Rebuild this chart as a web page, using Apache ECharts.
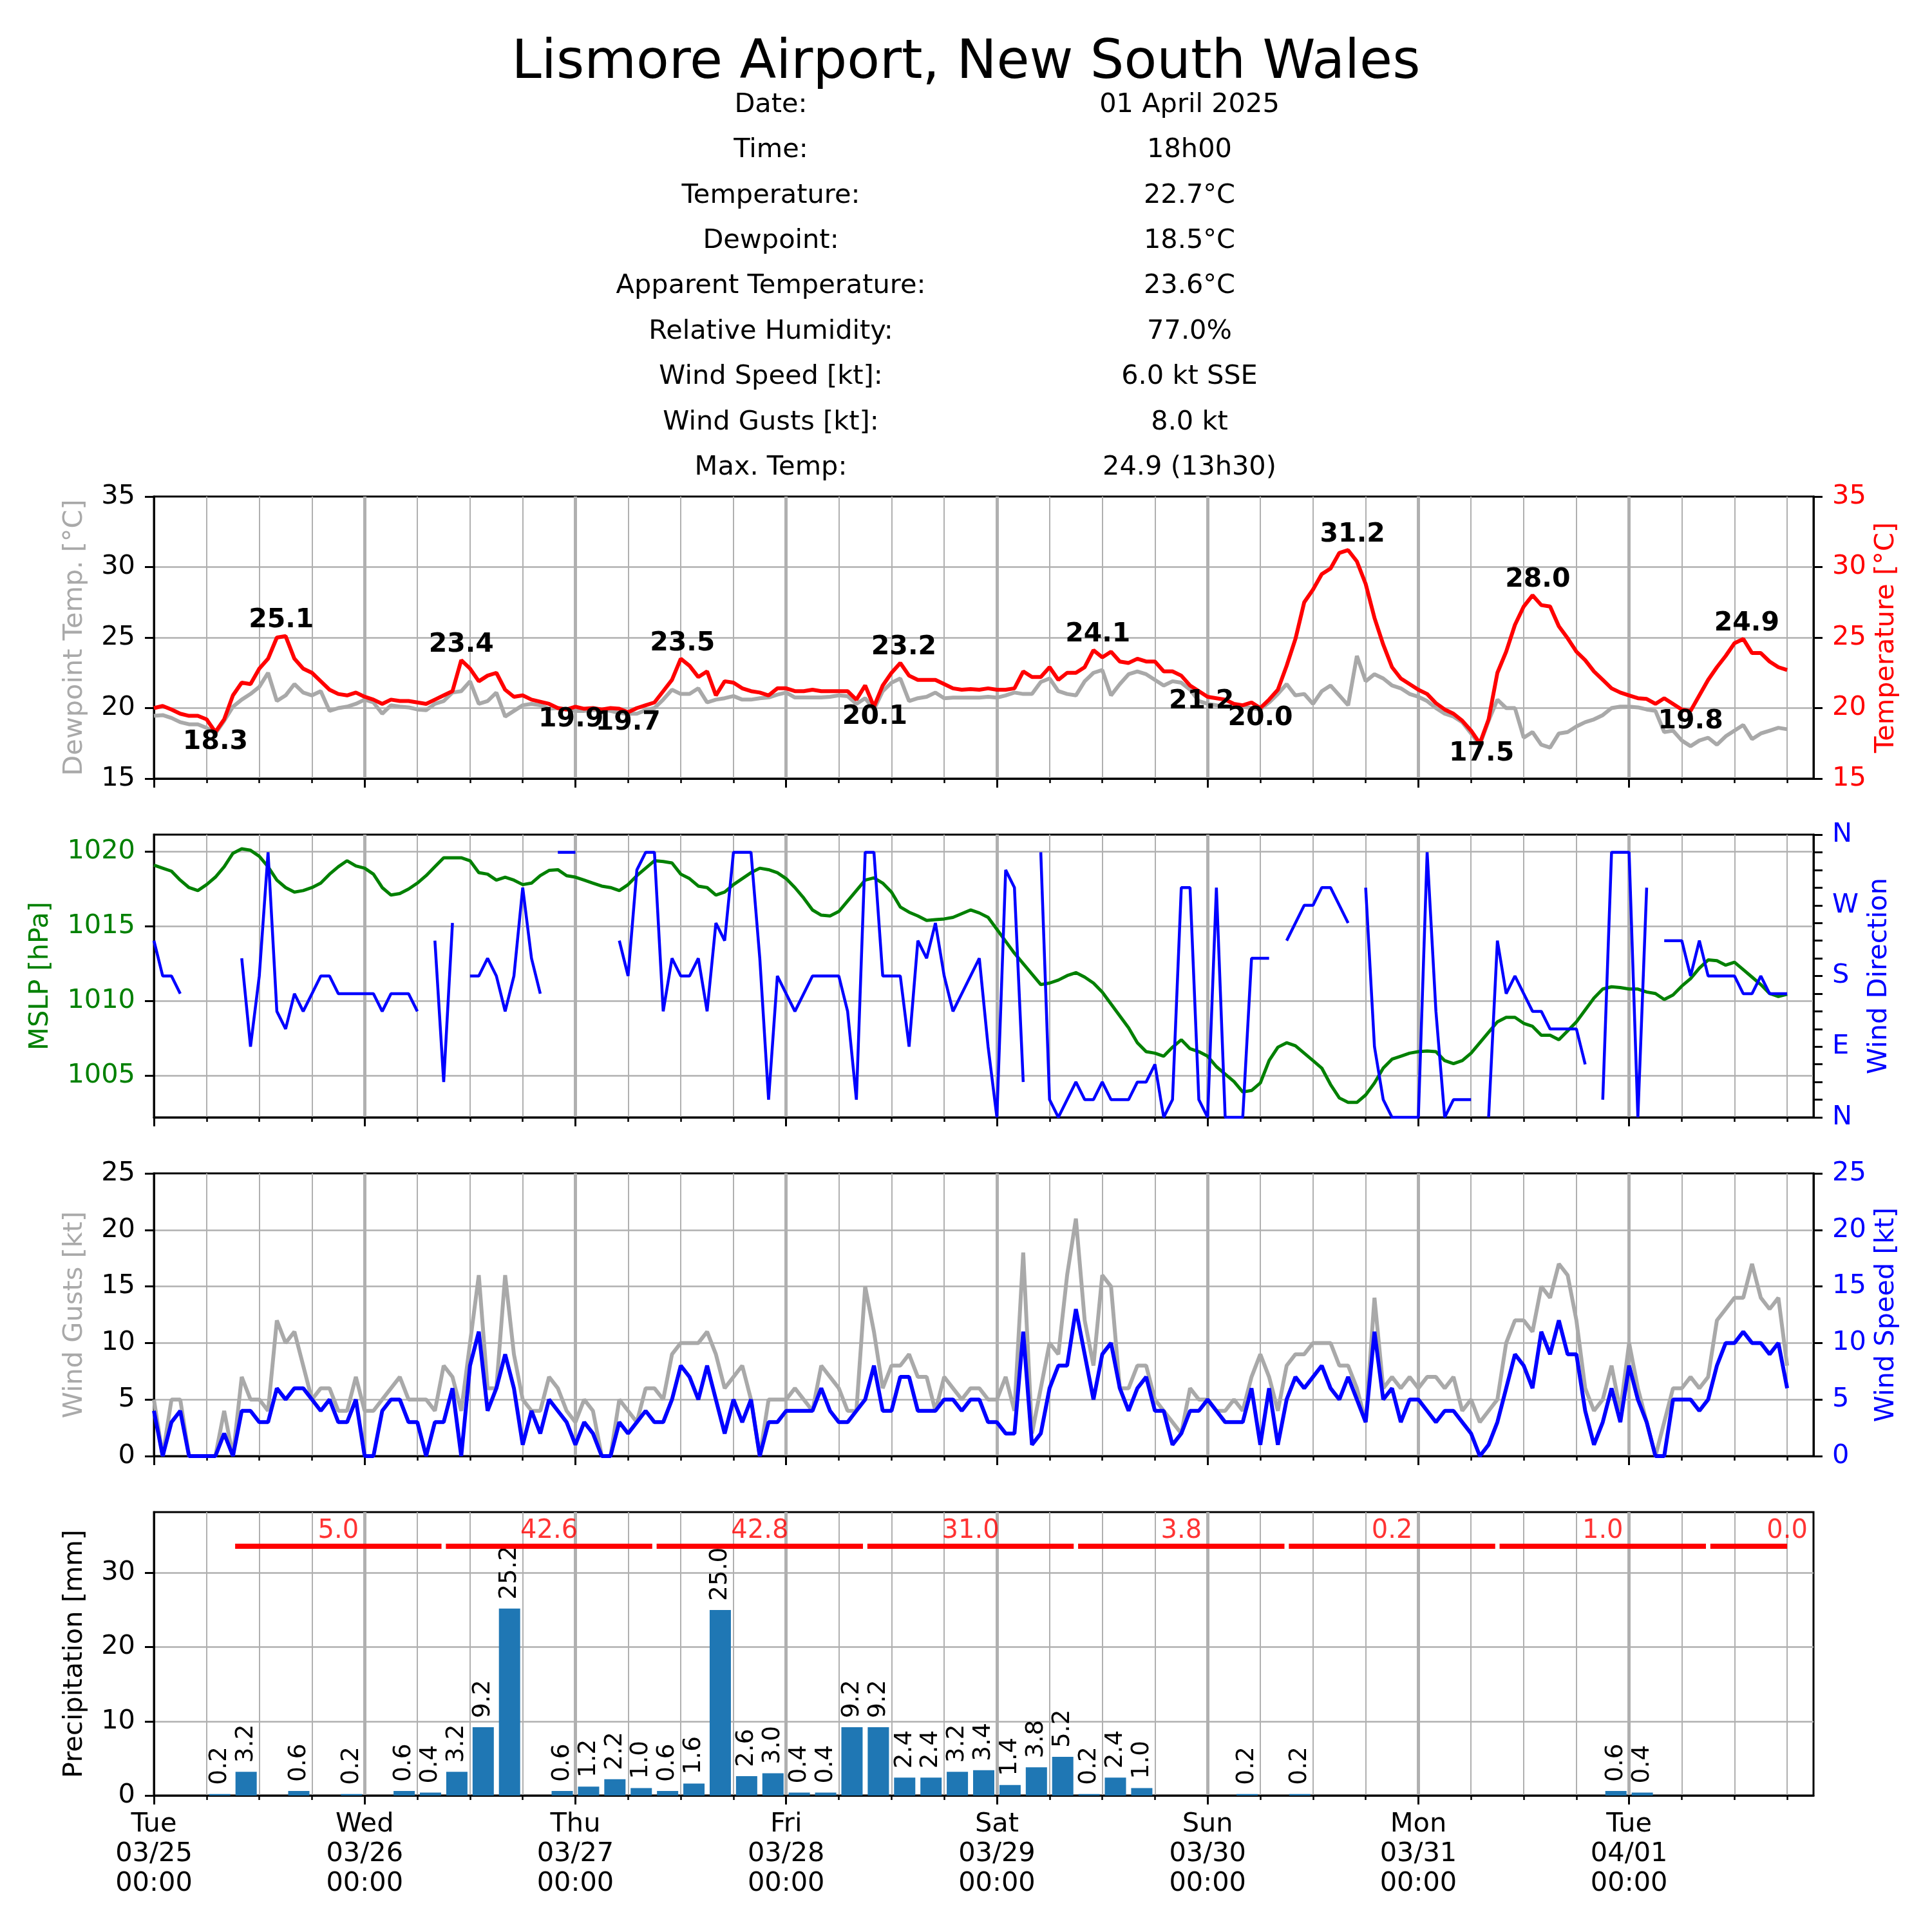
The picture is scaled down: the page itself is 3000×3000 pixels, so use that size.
<!DOCTYPE html>
<html>
<head>
<meta charset="utf-8">
<script src="https://cdn.jsdelivr.net/npm/echarts@6/dist/echarts.min.js"></script>
<style>
html,body{margin:0;padding:0;background:#ffffff;}
#chart{width:3000px;height:3000px;}
</style>
</head>
<body>
<div id="chart"></div>
<script>
// ---------------- DATA (hourly from 2025-03-25 00:00) ----------------
const STEP_HOURS = 1;
const X_MAX_HOURS = 189;

const dayTickHours = [0, 24, 48, 72, 96, 120, 144, 168];
const sixHourTicks = [0,6,12,18,24,30,36,42,48,54,60,66,72,78,84,90,96,102,108,114,120,126,132,138,144,150,156,162,168,174,180,186];
const dayLabels = ['Tue\n03/25\n00:00','Wed\n03/26\n00:00','Thu\n03/27\n00:00','Fri\n03/28\n00:00','Sat\n03/29\n00:00','Sun\n03/30\n00:00','Mon\n03/31\n00:00','Tue\n04/01\n00:00'];

const temperature = [
 20.0,20.15,19.9,19.6,19.45,19.45,19.2,18.3,19.2,20.9,
 21.8,21.7,22.8,23.5,25.0,25.1,23.5,22.8,22.5,21.9,
 21.3,21.0,20.9,21.1,20.8,20.6,20.3,20.6,20.5,20.5,
 20.4,20.3,20.6,20.9,21.2,23.4,22.8,21.9,22.3,22.5,
 21.3,20.8,20.9,20.6,20.45,20.3,20.0,19.9,20.1,19.95,
 20.0,19.9,20.0,19.95,19.7,20.0,20.2,20.4,21.2,22.0,
 23.5,23.0,22.2,22.6,20.9,21.9,21.8,21.4,21.2,21.1,
 20.9,21.4,21.4,21.2,21.2,21.3,21.2,21.2,21.2,21.2,
 20.6,21.6,20.1,21.6,22.5,23.2,22.3,22.0,22.0,22.0,
 21.7,21.4,21.3,21.35,21.3,21.4,21.3,21.3,21.4,22.6,
 22.2,22.2,22.9,22.0,22.5,22.5,22.9,24.1,23.6,24.0,
 23.3,23.2,23.5,23.3,23.3,22.6,22.6,22.3,21.6,21.2,
 20.8,20.7,20.6,20.3,20.2,20.4,20.0,20.6,21.3,23.0,
 24.9,27.5,28.4,29.5,29.9,31.0,31.2,30.4,28.8,26.4,
 24.5,22.9,22.1,21.7,21.3,21.0,20.35,19.9,19.6,19.1,
 18.4,17.5,19.2,22.5,24.0,25.9,27.2,28.0,27.3,27.2,
 25.8,24.95,24.0,23.4,22.6,22.0,21.4,21.1,20.9,20.7,
 20.65,20.3,20.7,20.3,19.9,19.8,20.9,22.0,22.9,23.7,
 24.6,24.9,23.9,23.9,23.3,22.9,22.7
];

const dewpoint = [
 19.45,19.5,19.3,19.0,18.85,18.85,18.6,18.2,19.1,20.1,
 20.6,21.0,21.5,22.5,20.5,20.9,21.7,21.1,20.9,21.2,
 19.8,20.0,20.1,20.3,20.6,20.4,19.6,20.2,20.1,20.05,
 19.9,19.85,20.3,20.5,21.1,21.2,21.9,20.3,20.5,21.1,
 19.4,19.8,20.2,20.3,20.2,19.95,20.0,19.9,19.8,19.8,
 19.85,19.9,19.8,19.65,19.6,19.6,19.85,20.0,20.6,21.3,
 21.0,21.0,21.4,20.4,20.6,20.7,20.85,20.6,20.6,20.7,
 20.75,20.95,21.1,20.75,20.75,20.75,20.75,20.8,20.9,20.85,
 20.3,20.7,19.9,21.2,21.8,22.1,20.5,20.7,20.8,21.1,
 20.7,20.74,20.74,20.74,20.74,20.8,20.74,20.9,21.1,21.0,
 21.0,21.85,22.1,21.2,21.0,20.9,21.9,22.5,22.7,20.9,
 21.7,22.4,22.6,22.4,22.0,21.6,21.9,21.8,21.3,20.5,
 20.3,20.2,20.1,20.1,20.1,20.0,19.9,20.4,21.0,21.7,
 20.9,21.0,20.3,21.2,21.6,20.9,20.2,23.7,21.9,22.4,
 22.1,21.6,21.4,21.0,20.8,20.5,20.0,19.6,19.4,19.0,
 18.2,17.4,19.1,20.6,20.0,20.0,17.9,18.3,17.4,17.2,
 18.2,18.3,18.7,19.0,19.2,19.5,20.0,20.1,20.1,20.05,
 19.9,19.8,18.3,18.4,17.7,17.3,17.7,17.9,17.4,18.0,
 18.4,18.8,17.8,18.2,18.4,18.6,18.5
];

const mslp = [
 1019.1,1018.9,1018.7,1018.1,1017.6,1017.4,1017.8,1018.3,1019.0,1019.9,
 1020.2,1020.1,1019.7,1019.0,1018.1,1017.6,1017.3,1017.4,1017.6,1017.9,
 1018.5,1019.0,1019.4,1019.05,1018.9,1018.5,1017.6,1017.1,1017.2,1017.5,
 1017.9,1018.4,1019.0,1019.6,1019.6,1019.6,1019.4,1018.6,1018.5,1018.1,
 1018.3,1018.1,1017.8,1017.9,1018.4,1018.75,1018.8,1018.4,1018.3,1018.1,
 1017.9,1017.7,1017.6,1017.4,1017.8,1018.4,1018.9,1019.4,1019.35,1019.25,
 1018.5,1018.2,1017.7,1017.6,1017.1,1017.3,1017.8,1018.2,1018.6,1018.9,
 1018.8,1018.6,1018.2,1017.6,1016.9,1016.1,1015.75,1015.7,1016.0,1016.7,
 1017.4,1018.1,1018.25,1017.9,1017.3,1016.3,1015.95,1015.7,1015.4,1015.45,
 1015.5,1015.6,1015.85,1016.1,1015.9,1015.6,1014.8,1014.0,1013.2,1012.5,
 1011.8,1011.1,1011.2,1011.4,1011.7,1011.9,1011.6,1011.2,1010.6,1009.8,
 1009.0,1008.2,1007.2,1006.6,1006.5,1006.3,1006.9,1007.4,1006.8,1006.6,
 1006.3,1005.6,1005.1,1004.6,1003.9,1004.0,1004.5,1006.0,1006.9,1007.2,
 1007.0,1006.5,1006.0,1005.5,1004.4,1003.5,1003.2,1003.2,1003.7,1004.5,
 1005.5,1006.1,1006.3,1006.5,1006.6,1006.65,1006.6,1006.0,1005.8,1006.0,
 1006.5,1007.2,1007.9,1008.6,1008.9,1008.9,1008.5,1008.3,1007.7,1007.7,
 1007.4,1008.0,1008.6,1009.4,1010.2,1010.8,1010.95,1010.9,1010.8,1010.8,
 1010.6,1010.5,1010.1,1010.4,1011.0,1011.5,1012.2,1012.75,1012.7,1012.4,
 1012.6,1012.1,1011.6,1011.1,1010.5,1010.3,1010.45
];

// wind direction in degrees (null = calm / missing)
const windDir = [
 225,180,180,157.5,null,null,null,null,null,null,
 202.5,90,180,337.5,135,112.5,157.5,135,157.5,180,
 180,157.5,157.5,157.5,157.5,157.5,135,157.5,157.5,157.5,
 135,null,225,45,247.5,null,180,180,202.5,180,
 135,180,292.5,202.5,157.5,null,337.5,337.5,337.5,null,
 null,null,null,225,180,315,337.5,337.5,135,202.5,
 180,180,202.5,135,247.5,225,337.5,337.5,337.5,202.5,
 22.5,180,157.5,135,157.5,180,180,180,180,135,
 22.5,337.5,337.5,180,180,180,90,225,202.5,247.5,
 180,135,157.5,180,202.5,90,0,315,292.5,45,
 null,337.5,22.5,0,22.5,45,22.5,22.5,45,22.5,
 22.5,22.5,45,45,67.5,0,22.5,292.5,292.5,22.5,
 0,292.5,0,0,0,202.5,202.5,202.5,null,225,
 247.5,270,270,292.5,292.5,270,247.5,null,292.5,90,
 22.5,0,0,0,0,337.5,135,0,22.5,22.5,
 22.5,null,0,225,157.5,180,157.5,135,135,112.5,
 112.5,112.5,112.5,67.5,null,22.5,337.5,337.5,337.5,0,
 292.5,null,225,225,225,180,225,180,180,180,
 180,157.5,157.5,180,157.5,157.5,157.5
];

const windSpeed = [
 4,0,3,4,0,0,0,0,2,0,
 4,4,3,3,6,5,6,6,5,4,
 5,3,3,5,0,0,4,5,5,3,
 3,0,3,3,6,0,8,11,4,6,
 9,6,1,4,2,5,4,3,1,3,
 2,0,0,3,2,3,4,3,3,5,
 8,7,5,8,5,2,5,3,5,0,
 3,3,4,4,4,4,6,4,3,3,
 4,5,8,4,4,7,7,4,4,4,
 5,5,4,5,5,3,3,2,2,11,
 1,2,6,8,8,13,9,5,9,10,
 6,4,6,7,4,4,1,2,4,4,
 5,4,3,3,3,6,1,6,1,5,
 7,6,7,8,6,5,7,5,3,11,
 5,6,3,5,5,4,3,4,4,3,
 2,0,1,3,6,9,8,6,11,9,
 12,9,9,4,1,3,6,3,8,5,
 3,0,0,5,5,5,4,5,8,10,
 10,11,10,10,9,10,6
];

const windGust = [
 5,0,5,5,0,0,0,0,4,0,
 7,5,5,4,12,10,11,8,5,6,
 6,4,4,7,4,4,5,6,7,5,
 5,5,4,8,7,4,10,16,6,6,
 16,9,5,4,4,7,6,4,3,5,
 4,0,0,5,4,3,6,6,5,9,
 10,10,10,11,9,6,7,8,5,0,
 5,5,5,6,5,4,8,7,6,4,
 4,15,11,6,8,8,9,7,7,4,
 7,6,5,6,6,5,5,7,4,18,
 2,6,10,9,16,21,12,8,16,15,
 6,6,8,8,5,4,3,2,6,5,
 5,4,4,5,4,7,9,7,4,8,
 9,9,10,10,10,8,8,6,3,14,
 6,7,6,7,6,7,7,6,7,4,
 5,3,4,5,10,12,12,11,15,14,
 17,16,12,6,4,5,8,4,10,6,
 3,0,3,6,6,7,6,7,12,13,
 14,14,17,14,13,14,8
];

// 3-hourly precipitation [mm], bins starting 2025-03-25 00:00
const PRECIP_BIN_HOURS = 3;
const precip3h = [
 0,0,0.2,3.2,0,0.6,0,0.2,0,0.6,
 0.4,3.2,9.2,25.2,0,0.6,1.2,2.2,1.0,0.6,
 1.6,25.0,2.6,3.0,0.4,0.4,9.2,9.2,2.4,2.4,
 3.2,3.4,1.4,3.8,5.2,0.2,2.4,1.0,0,0,
 0,0.2,0,0.2,0,0,0,0,0,0,
 0,0,0,0,0,0.6,0.4,0,0,0,
 0,0
];

// 9am-to-9am daily rainfall totals
const dailyRainStartHours = [9, 33, 57, 81, 105, 129, 153, 177];
const dailyRainTotals = [5.0, 42.6, 42.8, 31.0, 3.8, 0.2, 1.0, 0.0];

// daily temperature extremes (annotations)
const tempExtremeHours = [7, 14.5, 35, 47.5, 54, 60.2, 82.1, 85.4, 107.5, 119.3, 126, 136.5, 151.2, 157.6, 175, 181.4];
const tempExtremeValues = [18.3, 25.1, 23.4, 19.9, 19.7, 23.5, 20.1, 23.2, 24.1, 21.2, 20.0, 31.2, 17.5, 28.0, 19.8, 24.9];
const tempExtremeKinds = ['min','max','max','min','min','max','min','max','max','min','min','max','min','max','min','max'];

const infoLabels = ['Date:','Time:','Temperature:','Dewpoint:','Apparent Temperature:','Relative Humidity:','Wind Speed [kt]:','Wind Gusts [kt]:','Max. Temp:'];
const infoValues = ['01 April 2025','18h00','22.7\u00b0C','18.5\u00b0C','23.6\u00b0C','77.0%','6.0 kt SSE','8.0 kt','24.9 (13h30)'];
const chartTitle = 'Lismore Airport, New South Wales';

const compassLabels = {0:'N', 90:'E', 180:'S', 270:'W', 360:'N'};

// ---------------- STYLE / LAYOUT ----------------
const FONT = 'DejaVu Sans';
const FS = 41.5;
const GRID_LEFT = 239, GRID_RIGHT = 184;
const PANEL_TOP = [771, 1296, 1822, 2348];
const PANEL_H = [438, 439, 439, 440];
const GRID_COLOR = '#b0b0b0';
const GREY = '#a9a9a9';
const RAIN_LINE_Y = 33.6;

const END_HOUR = (temperature.length - 1) * STEP_HOURS;
const toXY = arr => arr.map((v, i) => [i * STEP_HOURS, (v === null ? '-' : v)]);

function xAxesFor(g) {
  return [
    {
      type: 'value', gridIndex: g, min: 0, max: X_MAX_HOURS, interval: 6, position: 'bottom',
      axisLine: { show: false, onZero: false },
      axisLabel: { show: false },
      axisTick: { show: true, length: 7, lineStyle: { color: '#000', width: 2.5 }, customValues: sixHourTicks },
      splitLine: { show: true, showMinLine: false, showMaxLine: true, lineStyle: { color: GRID_COLOR, width: 2 } }
    },
    {
      type: 'value', gridIndex: g, min: 0, max: X_MAX_HOURS, interval: 24, position: 'bottom',
      axisLine: { show: true, onZero: false, lineStyle: { color: '#000', width: 3 } },
      axisTick: { show: true, length: 14, lineStyle: { color: '#000', width: 3 }, customValues: dayTickHours },
      axisLabel: {
        show: g === 3, customValues: dayTickHours,
        formatter: v => (v % 24 === 0 && dayLabels[v / 24]) ? dayLabels[v / 24] : '',
        fontSize: FS, lineHeight: 46, color: '#000', margin: 22, fontFamily: FONT
      },
      splitLine: { show: true, showMinLine: false, showMaxLine: true, lineStyle: { color: GRID_COLOR, width: 5 } }
    }
  ];
}

function yAxis(o) {
  return {
    type: 'value', gridIndex: o.grid, position: o.pos, min: o.min, max: o.max,
    interval: o.interval, splitNumber: o.splitNumber,
    name: o.name, nameLocation: 'middle', nameGap: o.nameGap, nameRotate: 90,
    nameTextStyle: { color: o.nameColor, fontSize: FS, fontFamily: FONT },
    axisLine: { show: true, onZero: false, lineStyle: { color: '#000', width: 3 } },
    axisTick: { show: o.ticks !== false, length: 14, lineStyle: { color: '#000', width: 3 }, customValues: o.customValues },
    axisLabel: {
      show: o.labels !== false, color: o.labelColor, fontSize: FS, fontFamily: FONT, margin: 29,
      formatter: o.formatter || (v => String(v)), customValues: o.customValues
    },
    splitLine: {
      show: !!o.split, showMinLine: !!o.minLine, showMaxLine: !!o.maxLine,
      lineStyle: { color: GRID_COLOR, width: 2.5 }
    }
  };
}

const xAxes = [].concat(xAxesFor(0), xAxesFor(1), xAxesFor(2), xAxesFor(3));
// major axis index for grid g = 2g+1
const XM = g => 2 * g + 1;

const yAxes = [
  yAxis({grid:0, pos:'left', min:15, max:35, interval:5, name:'Dewpoint Temp. [\u00b0C]', nameColor:GREY, nameGap:102, labelColor:'#000', split:true}),
  yAxis({grid:0, pos:'right', min:15, max:35, interval:5, name:'Temperature [\u00b0C]', nameColor:'#ff0000', nameGap:92, labelColor:'#ff0000'}),
  yAxis({grid:1, pos:'left', min:1002.2, max:1021.15, splitNumber:4, customValues:[1005,1010,1015,1020], name:'MSLP [hPa]', nameColor:'#008000', nameGap:155, labelColor:'#008000', split:true, minLine:true, maxLine:true}),
  yAxis({grid:1, pos:'right', min:0, max:360, interval:22.5, name:'Wind Direction', nameColor:'#0000ff', nameGap:80, labelColor:'#0000ff', formatter: v => compassLabels[v] || ''}),
  yAxis({grid:2, pos:'left', min:0, max:25, interval:5, name:'Wind Gusts [kt]', nameColor:GREY, nameGap:102, labelColor:'#000', split:true}),
  yAxis({grid:2, pos:'right', min:0, max:25, interval:5, name:'Wind Speed [kt]', nameColor:'#0000ff', nameGap:92, labelColor:'#0000ff'}),
  yAxis({grid:3, pos:'left', min:0, max:38.2, interval:10, customValues:[0,10,20,30], name:'Precipitation [mm]', nameColor:'#000', nameGap:102, labelColor:'#000', split:true, minLine:false, maxLine:true})
];

const grids = PANEL_TOP.map((t, i) => ({
  left: GRID_LEFT, right: GRID_RIGHT, top: t, height: PANEL_H[i],
  show: true, borderColor: '#000', borderWidth: 3, backgroundColor: 'transparent',
  containLabel: false, outerBoundsMode: 'none'
}));

const lineSeries = (data, xi, yi, color, width, z) => ({
  type: 'line', xAxisIndex: xi, yAxisIndex: yi, data: data,
  showSymbol: false, symbol: 'none', connectNulls: false, smooth: false,
  lineStyle: { color: color, width: width }, itemStyle: { color: color }, z: z, silent: true
});

const graphics = [{
  type: 'text', x: 1500, y: 99,
  style: { text: chartTitle, align: 'center', verticalAlign: 'middle', fontSize: 83, fontFamily: FONT, fill: '#000' }
}];
infoLabels.forEach((lab, i) => {
  const y = 163 + 70.4 * i;
  graphics.push({ type: 'text', x: 1197, y: y, style: { text: lab, align: 'center', verticalAlign: 'middle', fontSize: FS, fontFamily: FONT, fill: '#000' } });
  graphics.push({ type: 'text', x: 1847, y: y, style: { text: infoValues[i], align: 'center', verticalAlign: 'middle', fontSize: FS, fontFamily: FONT, fill: '#000' } });
});

const series = [
  lineSeries(toXY(dewpoint), XM(0), 0, GREY, 6, 2),
  lineSeries(toXY(temperature), XM(0), 1, '#ff0000', 6, 3),
  {
    type: 'scatter', xAxisIndex: XM(0), yAxisIndex: 1, symbolSize: 1, z: 5, silent: true,
    itemStyle: { color: 'rgba(255,255,255,0)' },
    data: tempExtremeHours.map((h, i) => ({
      value: [h, tempExtremeValues[i]],
      label: tempExtremeKinds[i] === 'max'
        ? { position: 'top', distance: 3 }
        : { position: 'bottom', distance: -5 }
    })),
    label: {
      show: true, formatter: p => p.value[1].toFixed(1),
      fontSize: 41, fontWeight: 'bold', fontFamily: FONT, color: '#000000',
      textBorderWidth: 0, opacity: 1
    }
  },
  lineSeries(toXY(mslp), XM(1), 2, '#008000', 5, 2),
  lineSeries(toXY(windDir), XM(1), 3, '#0000ff', 4.5, 3),
  lineSeries(toXY(windGust), XM(2), 4, GREY, 6, 2),
  lineSeries(toXY(windSpeed), XM(2), 5, '#0000ff', 6, 3),
  {
    type: 'bar', xAxisIndex: XM(3), yAxisIndex: 6, barWidth: 33, silent: true, z: 2,
    itemStyle: { color: '#1f77b4' },
    data: precip3h.map((v, k) => [k * PRECIP_BIN_HOURS + PRECIP_BIN_HOURS / 2, v]),
    label: {
      show: true, position: 'top', rotate: 90, align: 'left', verticalAlign: 'middle', distance: 14,
      formatter: p => p.value[1] > 0 ? p.value[1].toFixed(1) : '',
      fontSize: 37.5, fontFamily: FONT, color: '#000'
    },
    markLine: {
      silent: true, symbol: ['none', 'none'], animation: false,
      label: { show: false },
      lineStyle: { color: '#ff0000', width: 8, type: 'solid', cap: 'butt' },
      data: dailyRainStartHours.map(s => [
        { coord: [s + 0.25, RAIN_LINE_Y] },
        { coord: [Math.min(s + 23.75, END_HOUR), RAIN_LINE_Y] }
      ])
    }
  },
  {
    type: 'scatter', xAxisIndex: XM(3), yAxisIndex: 6, symbolSize: 1, z: 5, silent: true,
    itemStyle: { color: 'rgba(255,255,255,0)' },
    data: dailyRainStartHours.map((s, i) => [Math.min(s + 12, END_HOUR), RAIN_LINE_Y, dailyRainTotals[i]]),
    label: {
      show: true, position: 'inside', offset: [0, -23],
      formatter: p => p.value[2].toFixed(1),
      fontSize: 40, fontFamily: FONT, color: '#ff0000'
    }
  }
];

const chart = echarts.init(document.getElementById('chart'), null, { renderer: 'canvas', width: 3000, height: 3000 });
chart.setOption({
  animation: false,
  backgroundColor: '#ffffff',
  textStyle: { fontFamily: FONT },
  graphic: graphics,
  grid: grids,
  xAxis: xAxes,
  yAxis: yAxes,
  series: series
});
</script>
</body>
</html>
